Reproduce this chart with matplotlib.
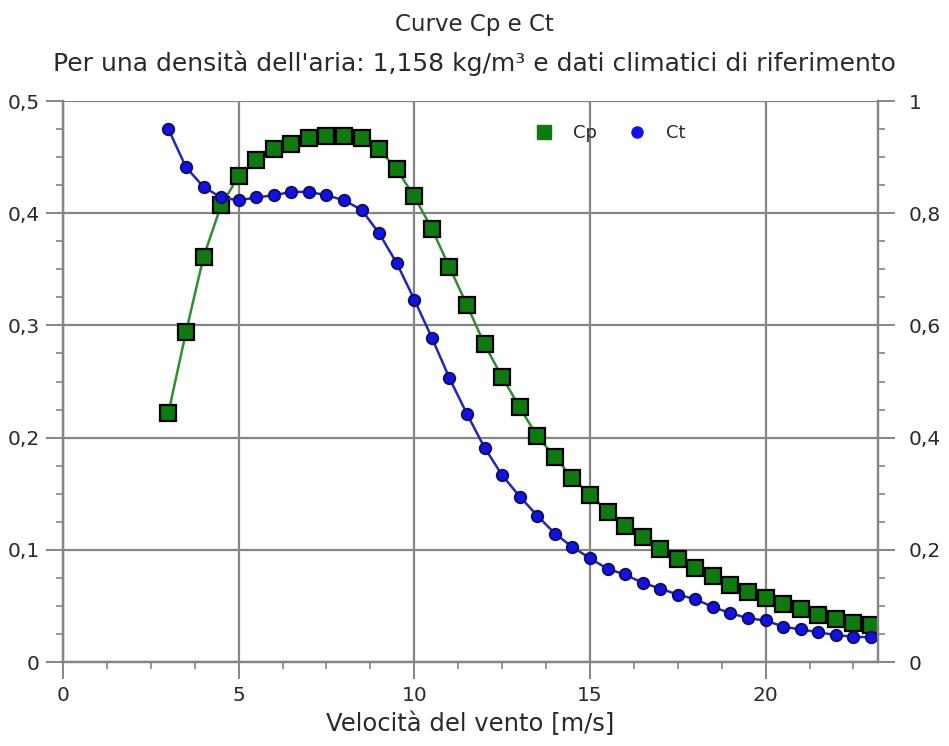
import numpy as np
import matplotlib
matplotlib.use("Agg")
import matplotlib.pyplot as plt
from matplotlib.lines import Line2D
from matplotlib.ticker import MultipleLocator, FuncFormatter

# Wind speed [m/s]
wind_speed = [3, 3.5, 4, 4.5, 5, 5.5, 6, 6.5, 7, 7.5, 8, 8.5, 9, 9.5, 10, 10.5,
              11, 11.5, 12, 12.5, 13, 13.5, 14, 14.5, 15, 15.5, 16, 16.5, 17,
              17.5, 18, 18.5, 19, 19.5, 20, 20.5, 21, 21.5, 22, 22.5, 23]

# Power coefficient (left axis)
cp = [0.222, 0.294, 0.361, 0.407, 0.433, 0.447, 0.457, 0.462, 0.467, 0.469,
      0.469, 0.467, 0.457, 0.439, 0.415, 0.386, 0.352, 0.318, 0.283, 0.254,
      0.227, 0.201, 0.183, 0.164, 0.149, 0.134, 0.121, 0.111, 0.101, 0.092,
      0.084, 0.077, 0.069, 0.062, 0.057, 0.052, 0.047, 0.042, 0.038, 0.035,
      0.033]

# Thrust coefficient (right axis)
ct = [0.950, 0.882, 0.847, 0.828, 0.823, 0.828, 0.832, 0.838, 0.838, 0.832,
      0.823, 0.806, 0.764, 0.711, 0.646, 0.578, 0.506, 0.442, 0.382, 0.333,
      0.295, 0.261, 0.229, 0.205, 0.185, 0.166, 0.156, 0.141, 0.131, 0.120,
      0.112, 0.098, 0.087, 0.078, 0.074, 0.063, 0.058, 0.053, 0.048, 0.045,
      0.044]

title = "Curve Cp e Ct"
subtitle = "Per una densità dell'aria: 1,158 kg/m³ e dati climatici di riferimento"
xlabel = "Velocità del vento [m/s]"

plt.rcParams['font.family'] = ['DejaVu Sans']

green_face = '#0f7a0f'
green_line = '#2f8f2f'
blue_face = '#1212e6'
blue_line = '#2424c0'
axis_gray = '#858585'
text_col = '#2a2a2a'


def comma(v, pos):
    s = f"{v:g}"
    return s.replace('.', ',')


fig = plt.figure(figsize=(9.49, 7.46), dpi=100)
ax = fig.add_axes([0.0664, 0.1126, 0.8588, 0.752])
ax2 = ax.twinx()

ax.plot(wind_speed, cp, color=green_line, lw=1.8, marker='s', markersize=11,
        markerfacecolor=green_face, markeredgecolor='black', markeredgewidth=1.6)
ax2.plot(wind_speed, ct, color=blue_line, lw=1.8, marker='o', markersize=8.2,
         markerfacecolor=blue_face, markeredgecolor='#10105a', markeredgewidth=1.4)

ax.set_xlim(0, 23.2)
ax.set_ylim(0, 0.5)
ax2.set_ylim(0, 1)

ax.xaxis.set_major_locator(MultipleLocator(5))
ax.xaxis.set_minor_locator(MultipleLocator(1.25))
ax.yaxis.set_major_locator(MultipleLocator(0.1))
ax.yaxis.set_minor_locator(MultipleLocator(0.025))
ax2.yaxis.set_major_locator(MultipleLocator(0.2))
ax2.yaxis.set_minor_locator(MultipleLocator(0.05))
ax.yaxis.set_major_formatter(FuncFormatter(comma))
ax2.yaxis.set_major_formatter(FuncFormatter(comma))

ax.grid(True, which='major', color=axis_gray, lw=1.6)
ax.set_axisbelow(True)

for a in (ax, ax2):
    a.spines['top'].set_visible(False)
    for s in ('left', 'right', 'bottom'):
        a.spines[s].set_color(axis_gray)
        a.spines[s].set_linewidth(1.6)
    a.tick_params(which='major', length=12, width=1.4, color=axis_gray,
                  labelsize=14.5, labelcolor=text_col, pad=5)
    a.tick_params(which='minor', length=5, width=1.2, color=axis_gray)
ax2.tick_params(axis='y', which='major', pad=10)

ax.set_xlabel(xlabel, fontsize=17.5, color=text_col, labelpad=5)

fig.text(0.5, 0.9665, title, ha='center', va='center', fontsize=16.5, color=text_col)
fig.text(0.5, 0.9155, subtitle, ha='center', va='center', fontsize=18, color=text_col)

handles = [
    Line2D([], [], ls='none', marker='s', markersize=10, markerfacecolor=green_face,
           markeredgecolor=green_face, label='Cp'),
    Line2D([], [], ls='none', marker='o', markersize=8, markerfacecolor=blue_face,
           markeredgecolor=blue_face, label='Ct'),
]
leg = ax2.legend(handles=handles, loc='center', bbox_to_anchor=(0.666, 0.943),
                 ncol=2, frameon=False, fontsize=13, columnspacing=1.2,
                 handletextpad=0.6)
for t in leg.get_texts():
    t.set_color(text_col)

fig.savefig('out.png', dpi=100)
